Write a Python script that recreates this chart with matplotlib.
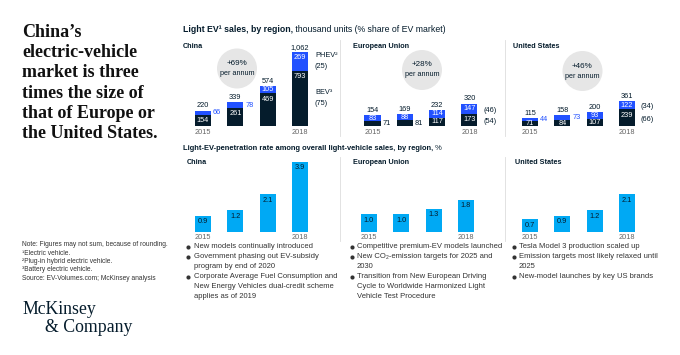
import matplotlib
matplotlib.use('Agg')
import matplotlib.pyplot as plt
from matplotlib.patches import Circle
from matplotlib.transforms import offset_copy

# ---------------- data ----------------
years = [2015, 2016, 2017, 2018]
year_labels = ['2015', '', '', '2018']
regions = ['China', 'European Union', 'United States']

china_bev = [154, 261, 469, 793]
china_phev = [66, 78, 105, 269]
china_total = ['220', '339', '574', '1,062']
eu_bev = [71, 81, 117, 173]
eu_phev = [83, 88, 114, 147]
eu_total = ['154', '169', '232', '320']
us_bev = [71, 84, 107, 239]
us_phev = [44, 73, 93, 122]
us_total = ['115', '158', '200', '361']

china_share = ['(25)', '(75)']
eu_share = ['(46)', '(54)']
us_share = ['(34)', '(66)']
growth = ['+69%', '+28%', '+46%']

china_pen = [0.9, 1.2, 2.1, 3.9]
eu_pen = [1.0, 1.0, 1.3, 1.8]
us_pen = [0.7, 0.9, 1.2, 2.1]

# labels drawn outside (right of) the bar segment
china_phev_out = [True, True, False, False]
eu_phev_out = [False, False, False, False]
us_phev_out = [True, True, False, False]
china_bev_out = [False, False, False, False]
eu_bev_out = [True, True, False, False]
us_bev_out = [False, False, False, False]

china_notes = ['New models continually introduced',
               'Government phasing out EV-subsidy\nprogram by end of 2020',
               'Corporate Average Fuel Consumption and\nNew Energy Vehicles dual-credit scheme\napplies as of 2019']
eu_notes = ['Competitive premium-EV models launched',
            'New CO\u2082-emission targets for 2025 and\n2030',
            'Transition from New European Driving\nCycle to Worldwide Harmonized Light\nVehicle Test Procedure']
us_notes = ['Tesla Model 3 production scaled up',
            'Emission targets most likely relaxed until\n2025',
            'New-model launches by key US brands']

footnotes = ['Note: Figures may not sum, because of rounding.',
             '\u00b9Electric vehicle.',
             '\u00b2Plug-in hybrid electric vehicle.',
             '\u00b3Battery electric vehicle.',
             'Source: EV-Volumes.com; McKinsey analysis']
title_lines = ['China\u2019s', 'electric-vehicle', 'market is three',
               'times the size of', 'that of Europe or', 'the United States.']

# ---------------- style ----------------
W, H = 680, 355
SANS = ['Liberation Sans', 'DejaVu Sans']
SERIF = ['Liberation Serif', 'DejaVu Serif']
NAVY = '#051C2C'
BLUE = '#2251FF'
CYAN = '#00A9F4'
CIRC = '#E6E6E6'
TXT = '#333333'
YRC = '#666666'
VS = 5.3  # value font size

fig = plt.figure(figsize=(6.8, 3.55), dpi=100)
fig.patch.set_facecolor('white')
bg = fig.add_axes([0, 0, 1, 1])
bg.set_xlim(0, W)
bg.set_ylim(H, 0)
bg.axis('off')
renderer = fig.canvas.get_renderer()


def add_ax(left, top, width, height):
    a = fig.add_axes([left / W, 1 - (top + height) / H, width / W, height / H])
    a.axis('off')
    a.set_xlim(-0.75, 4.25)
    return a


def off(ax, dx, dy):
    return offset_copy(ax.transData, fig=fig, x=dx, y=dy, units='dots')


def mixed(x, y, bold, regular, size):
    t = bg.text(x, y, bold, fontsize=size, fontweight='bold', family=SANS,
                color=NAVY, va='center', ha='left')
    bb = t.get_window_extent(renderer=renderer)
    bg.text(bb.x1, y, regular, fontsize=size, family=SANS, color=NAVY,
            va='center', ha='left')


SP = 32.3
TOP_SCALE = 0.0697   # px per thousand units
PEN_SCALE = 17.95    # px per percent

# ---------------- titles ----------------
for i, line in enumerate(title_lines):
    bg.text(22, 36.7 + i * 20.3, line, fontsize=13, fontweight='bold',
            family=SERIF, color='#111111', va='baseline', ha='left')

mixed(183, 30, 'Light EV\u00b9 sales, by region,', ' thousand units (% share of EV market)', 6.3)
mixed(183, 148, 'Light-EV-penetration rate among overall light-vehicle sales, by region,', ' %', 5.4)

top_title_x = [183, 353, 513]
bot_title_x = [187, 353, 515]
for r, name in enumerate(regions):
    bg.text(top_title_x[r], 47, name, fontsize=5.2, fontweight='bold', family=SANS,
            color=NAVY, va='center', ha='left')
    bg.text(bot_title_x[r], 163, name, fontsize=5.2, fontweight='bold', family=SANS,
            color=NAVY, va='center', ha='left')

# separators
for xs in (340, 505):
    bg.plot([xs, xs], [40, 136], color='#DDDDDD', lw=0.6)
    bg.plot([xs, xs], [157, 241], color='#DDDDDD', lw=0.6)

# ---------------- top stacked bars ----------------
top_c0 = [203, 372.5, 530]
bevs = [china_bev, eu_bev, us_bev]
phevs = [china_phev, eu_phev, us_phev]
totals = [china_total, eu_total, us_total]
shares = [china_share, eu_share, us_share]
phev_outs = [china_phev_out, eu_phev_out, us_phev_out]
bev_outs = [china_bev_out, eu_bev_out, us_bev_out]
circles = [(237, 68.5), (422, 70), (582.5, 71)]
BASE_TOP = 126
TOP_H = 86

x = list(range(len(years)))
for r in range(3):
    ax = add_ax(top_c0[r] - 0.75 * SP, BASE_TOP - TOP_H, 5 * SP, TOP_H)
    ax.set_ylim(0, TOP_H / TOP_SCALE)
    bv, pv = bevs[r], phevs[r]
    ax.bar(x, bv, width=0.5, color=NAVY, linewidth=0)
    ax.bar(x, pv, bottom=bv, width=0.5, color=BLUE, linewidth=0)
    for i in x:
        # BEV label
        h = bv[i] * TOP_SCALE
        if bev_outs[r][i]:
            ax.text(i + 0.25, bv[i] / 2, str(bv[i]), fontsize=VS, family=SANS,
                    color=NAVY, ha='left', va='center', transform=off(ax, 2, 0))
        else:
            ax.text(i, bv[i], str(bv[i]), fontsize=VS, family=SANS, color='white',
                    ha='center', va='center', transform=off(ax, 0, -min(6, h / 2)))
        # PHEV label
        h = pv[i] * TOP_SCALE
        top = bv[i] + pv[i]
        if phev_outs[r][i]:
            ax.text(i + 0.25, bv[i] + pv[i] / 2, str(pv[i]), fontsize=VS, family=SANS,
                    color=BLUE, ha='left', va='center', transform=off(ax, 2, 0))
        else:
            ax.text(i, top, str(pv[i]), fontsize=VS, family=SANS, color='white',
                    ha='center', va='center', transform=off(ax, 0, -min(6, h / 2)))
        # total
        ax.text(i, top, totals[r][i], fontsize=VS, family=SANS, color=NAVY,
                ha='center', va='bottom', transform=off(ax, 0, 1.2))
        # year
        ax.text(i, 0, year_labels[i], fontsize=VS, family=SANS, color=YRC,
                ha='center', va='center', transform=off(ax, 0, -6))
    # shares legend
    last = len(years) - 1
    pmid = bv[last] + pv[last] / 2
    bmid = bv[last] / 2
    if r == 0:
        ax.text(last + 0.25, pmid, 'PHEV\u00b2', fontsize=VS, family=SANS, color=NAVY,
                ha='left', va='center', transform=off(ax, 7, 5.5))
        ax.text(last + 0.25, pmid, shares[r][0], fontsize=VS, family=SANS, color=NAVY,
                ha='left', va='center', transform=off(ax, 7, -5.5))
        ax.text(last + 0.25, bmid, 'BEV\u00b3', fontsize=VS, family=SANS, color=NAVY,
                ha='left', va='center', transform=off(ax, 7, 5.5))
        ax.text(last + 0.25, bmid, shares[r][1], fontsize=VS, family=SANS, color=NAVY,
                ha='left', va='center', transform=off(ax, 7, -5.5))
    else:
        ax.text(last + 0.25, pmid, shares[r][0], fontsize=VS, family=SANS, color=NAVY,
                ha='left', va='center', transform=off(ax, 6, -1.5))
        ax.text(last + 0.25, bmid, shares[r][1], fontsize=VS, family=SANS, color=NAVY,
                ha='left', va='center', transform=off(ax, 6, -1.5))
    # growth circle
    cx, cy = circles[r]
    bg.add_patch(Circle((cx, cy), 20, color=CIRC, lw=0, zorder=1))
    bg.text(cx, cy - 5, growth[r], fontsize=5.8, family=SANS, color=NAVY,
            ha='center', va='center', zorder=2)
    bg.text(cx, cy + 5, 'per annum', fontsize=5.2, family=SANS, color=NAVY,
            ha='center', va='center', zorder=2)

# ---------------- penetration bars ----------------
bot_c0 = [203, 369, 530]
pens = [china_pen, eu_pen, us_pen]
BASE_BOT = 232
BOT_H = 82
for r in range(3):
    ax = add_ax(bot_c0[r] - 0.75 * SP, BASE_BOT - BOT_H, 5 * SP, BOT_H)
    ax.set_ylim(0, BOT_H / PEN_SCALE)
    ax.bar(x, pens[r], width=0.5, color=CYAN, linewidth=0)
    for i in x:
        ax.text(i, pens[r][i], f'{pens[r][i]:.1f}', fontsize=VS, family=SANS,
                color=NAVY, ha='center', va='top', transform=off(ax, 0, -2.5))
        ax.text(i, 0, year_labels[i], fontsize=VS, family=SANS, color=YRC,
                ha='center', va='center', transform=off(ax, 0, -5.5))

# ---------------- bullet notes ----------------
notes = [china_notes, eu_notes, us_notes]
dot_x = [188.3, 352, 513.5]
txt_x = [194, 357, 519]
LS = 9.9
for r in range(3):
    y = 247
    for item in notes[r]:
        bg.plot(dot_x[r], y, 'o', ms=3.0, color=TXT, mew=0)
        for line in item.split('\n'):
            bg.text(txt_x[r], y, line, fontsize=5.5, family=SANS, color=TXT,
                    ha='left', va='center')
            y += LS

# ---------------- footnotes & logo ----------------
for i, line in enumerate(footnotes):
    bg.text(22, 245 + i * 8.3, line, fontsize=4.75, family=SANS, color=TXT,
            ha='left', va='center')

bg.text(22, 314, 'McKinsey', fontsize=12.8, family=SERIF, color=NAVY,
        ha='left', va='baseline')
bg.text(45, 331.7, '& Company', fontsize=12.8, family=SERIF, color=NAVY,
        ha='left', va='baseline')

fig.savefig('out.png', dpi=100, facecolor='white')
